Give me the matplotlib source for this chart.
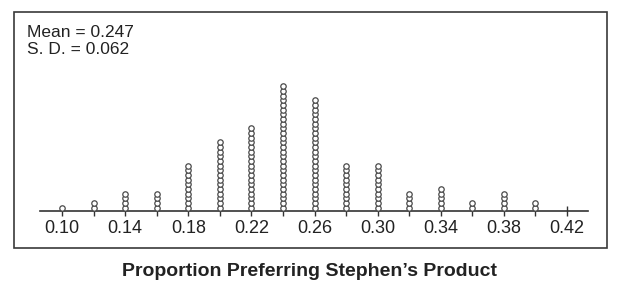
import matplotlib
matplotlib.use("Agg")
import matplotlib.pyplot as plt
from matplotlib.patches import Rectangle

plt.rcParams['font.family'] = ['Liberation Sans', 'DejaVu Sans']

# Data: proportion values and number of dots (samples) at each
proportions = [0.10, 0.12, 0.14, 0.16, 0.18, 0.20, 0.22, 0.24,
               0.26, 0.28, 0.30, 0.32, 0.34, 0.36, 0.38, 0.40]
counts = [1, 2, 4, 4, 10, 15, 18, 27, 24, 10, 10, 4, 5, 2, 4, 2]
tick_values = [0.10, 0.14, 0.18, 0.22, 0.26, 0.30, 0.34, 0.38, 0.42]
tick_labels = ["0.10", "0.14", "0.18", "0.22", "0.26", "0.30", "0.34", "0.38", "0.42"]
stats_lines = ["Mean = 0.247", "S. D. = 0.062"]
x_title = "Proportion Preferring Stephen\u2019s Product"

W, H = 621, 290
fig = plt.figure(figsize=(W / 100, H / 100), dpi=100)
fig.patch.set_facecolor('white')

# outer frame
fig.patches.append(Rectangle((14 / W, 1 - 248 / H), (607 - 14) / W, (248 - 12) / H,
                             transform=fig.transFigure, fill=False,
                             edgecolor='#3a3a3a', linewidth=1.2))

ax_left, ax_right = 40, 588
ax_bottom, ax_top = 211, 20
ax = fig.add_axes([ax_left / W, 1 - ax_bottom / H, (ax_right - ax_left) / W,
                   (ax_bottom - ax_top) / H])
ax.set_facecolor('none')

px_per_unit = (567 - 62) / 0.32
x0 = 0.10 - (62 - ax_left) / px_per_unit
x1 = 0.42 + (ax_right - 567) / px_per_unit
ax.set_xlim(x0, x1)
ax.set_ylim(0, ax_bottom - ax_top)

pitch = 4.67
base = 3.4
for p, n in zip(proportions, counts):
    ys = [base + i * pitch for i in range(n)]
    ax.plot([p] * n, ys, linestyle='none', marker='o', markersize=3.9,
            markerfacecolor='white', markeredgecolor='#4a4a4a',
            markeredgewidth=0.9, zorder=3)

# ticks at every 0.02 (minor, unlabeled) and labeled majors
ax.set_xticks(tick_values)
ax.set_xticklabels(tick_labels, fontsize=13, color='#222222')
ax.set_xticks(proportions + [0.42], minor=True)
ax.tick_params(axis='x', which='both', direction='inout', length=7,
               width=1.0, color='#333333', pad=3)
ax.set_yticks([])
for s in ['top', 'left', 'right']:
    ax.spines[s].set_visible(False)
ax.spines['bottom'].set_color('#333333')
ax.spines['bottom'].set_linewidth(1.2)

fig.text(27 / W, 1 - 37 / H, stats_lines[0], fontsize=12.5, color='#222222', va='baseline')
fig.text(27 / W, 1 - 54 / H, stats_lines[1], fontsize=12.5, color='#222222', va='baseline')

fig.text(309 / W, 1 - 272 / H, x_title, fontsize=14, fontweight='bold',
         color='#222222', ha='center', va='center')

fig.savefig('out.png', dpi=100, facecolor='white')
